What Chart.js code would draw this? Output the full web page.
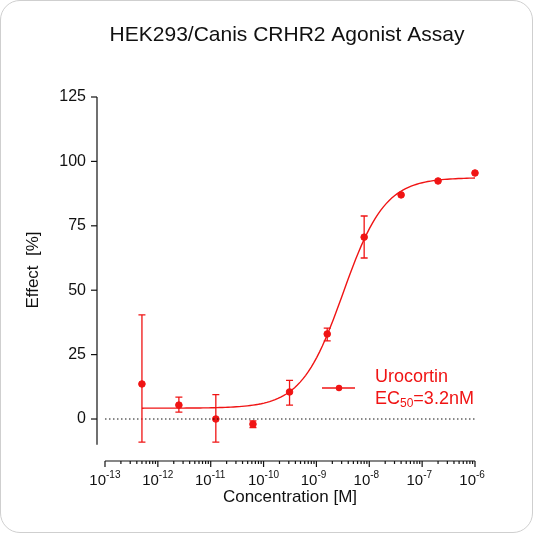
<!DOCTYPE html>
<html><head><meta charset="utf-8">
<script src="https://cdn.jsdelivr.net/npm/chart.js@4"></script>
<style>
body{margin:0;background:#fff}
#w{position:relative;width:533px;height:533px}
#b{position:absolute;left:0;top:0;width:533px;height:533px;box-sizing:border-box;border:1px solid #cfcfcf;border-radius:20px;pointer-events:none}
</style></head><body>
<div id="w"><canvas id="c" width="533" height="533"></canvas><div id="b"></div></div>
<script>
const concentrations=[5e-13,2.5e-12,1.25e-11,6.3e-11,3.1e-10,1.6e-9,8e-9,4e-8,2e-7,1e-6];
const effect=[13.6,5.4,0,-2,10.5,33,70.6,87,92.4,95.5];
const errLow=[-9,2.7,-9,-3.3,5.4,30.3,62.5,87,92.4,95.5];
const errHigh=[40.4,8.5,9.5,-0.7,15,35.3,78.8,87,92.4,95.5];
const yTicks=[0,25,50,75,100,125];
const xDecades=[-13,-12,-11,-10,-9,-8,-7,-6];
const fitBottom=4.2,fitTop=93.7,fitEC50=3.2e-9,fitHill=1.1;
const RED='rgb(240,20,20)';
const curve=[];
for(let i=0;i<=120;i++){const lx=Math.log10(5e-13)+i*(Math.log10(1e-6)-Math.log10(5e-13))/120;
 curve.push({x:lx,y:fitBottom+(fitTop-fitBottom)/(1+Math.pow(fitEC50/Math.pow(10,lx),fitHill))});}
const pts=concentrations.map((c,i)=>({x:Math.log10(c),y:effect[i]}));
const F='"Liberation Sans", Arial, sans-serif';
const deco={id:'deco',afterDraw(ch){
 const ctx=ch.ctx,x=ch.scales.x,y=ch.scales.y;ctx.save();
 ctx.fillStyle='#111';ctx.textAlign='center';ctx.textBaseline='middle';
 ctx.font='21px '+F;ctx.fillText('HEK293/Canis CRHR2 Agonist Assay',287,35);
 ctx.font='17px '+F;ctx.fillText('Concentration [M]',290,497);
 ctx.save();ctx.translate(33,270);ctx.rotate(-Math.PI/2);ctx.fillText('Effect  [%]',0,0);ctx.restore();
 ctx.strokeStyle='#111';ctx.lineWidth=1.2;
 const X0=x.getPixelForValue(-13),X1=x.getPixelForValue(-6),yb=y.getPixelForValue(-16.3);
 ctx.beginPath();ctx.moveTo(97,y.getPixelForValue(125));ctx.lineTo(97,y.getPixelForValue(-10));ctx.stroke();
 ctx.beginPath();ctx.moveTo(X0,yb);ctx.lineTo(X1,yb);ctx.stroke();
 ctx.font='16px '+F;ctx.textAlign='right';
 yTicks.forEach(t=>{const p=y.getPixelForValue(t);ctx.beginPath();ctx.moveTo(91,p);ctx.lineTo(97,p);ctx.stroke();ctx.fillText(String(t),86,p);});
 xDecades.forEach((d,i)=>{const p=x.getPixelForValue(d);ctx.beginPath();ctx.moveTo(p,yb);ctx.lineTo(p,yb+6);ctx.stroke();
  if(i<xDecades.length-1)for(let m=2;m<10;m++){const q=x.getPixelForValue(d+Math.log10(m));ctx.beginPath();ctx.moveTo(q,yb);ctx.lineTo(q,yb+3);ctx.stroke();}
  ctx.font='15px '+F;ctx.textAlign='right';ctx.fillText('10',p+1,481);
  ctx.font='10px '+F;ctx.textAlign='left';ctx.fillText(String(d),p+1,475);});
 ctx.setLineDash([1.5,2.5]);ctx.lineWidth=1;ctx.beginPath();ctx.moveTo(X0,y.getPixelForValue(0));ctx.lineTo(X1,y.getPixelForValue(0));ctx.stroke();ctx.setLineDash([]);
 ctx.strokeStyle=RED;ctx.lineWidth=1.3;
 pts.forEach((p,i)=>{if(errHigh[i]-errLow[i]<0.5)return;const px=x.getPixelForValue(p.x),a=y.getPixelForValue(errHigh[i]),b=y.getPixelForValue(errLow[i]);
  ctx.beginPath();ctx.moveTo(px,a);ctx.lineTo(px,b);ctx.moveTo(px-3.5,a);ctx.lineTo(px+3.5,a);ctx.moveTo(px-3.5,b);ctx.lineTo(px+3.5,b);ctx.stroke();});
 ctx.beginPath();ctx.moveTo(322,388);ctx.lineTo(355,388);ctx.stroke();
 ctx.fillStyle=RED;ctx.beginPath();ctx.arc(339,388,3.2,0,7);ctx.fill();
 ctx.textAlign='left';ctx.font='18px '+F;ctx.fillText('Urocortin',375,377);
 ctx.fillText('EC',375,399);const w=ctx.measureText('EC').width;
 ctx.font='12px '+F;ctx.fillText('50',375+w,404);const w2=ctx.measureText('50').width;
 ctx.font='18px '+F;ctx.fillText('=3.2nM',375+w+w2,399);
 ctx.restore();}};
new Chart(document.getElementById('c'),{
 data:{datasets:[
  {type:'line',data:curve,borderColor:RED,borderWidth:1.4,pointRadius:0,tension:0,clip:false},
  {type:'scatter',data:pts,backgroundColor:RED,borderColor:RED,pointRadius:3.3,clip:false}]},
 options:{responsive:false,animation:false,events:[],
  layout:{padding:{top:97,right:58,left:0,bottom:0}},
  plugins:{legend:{display:false},tooltip:{enabled:false},title:{display:false}},
  scales:{
   x:{type:'linear',min:-13-8/52.9,max:-6,display:true,grid:{display:false},border:{display:false},ticks:{display:false},afterFit(s){s.height=72;}},
   y:{type:'linear',min:-16.3,max:125,grid:{display:false},border:{display:false},ticks:{display:false},afterFit(s){s.width=97;}}}},
 plugins:[deco]});
</script></body></html>
